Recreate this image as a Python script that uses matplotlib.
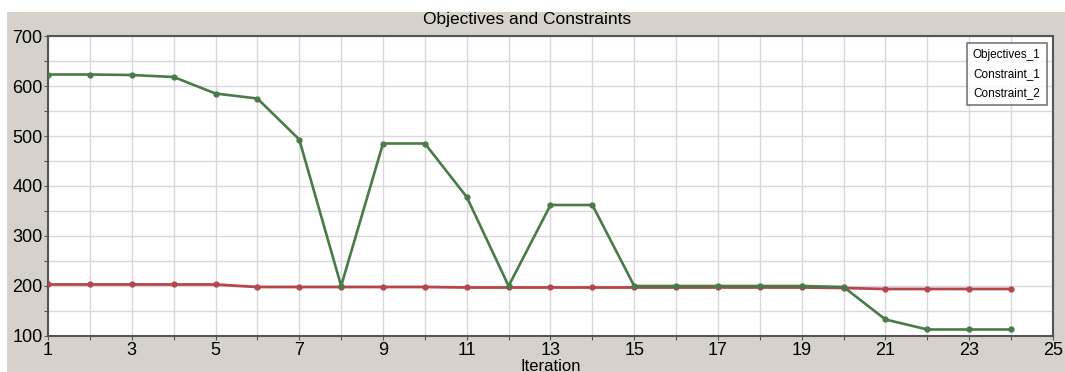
import matplotlib.pyplot as plt
from matplotlib.lines import Line2D

iterations = list(range(1, 25))
objectives_1 = [623, 623, 622, 618, 585, 575, 493, 200, 485, 485, 378, 200,
                362, 362, 200, 200, 200, 200, 200, 198, 133, 113, 113, 113]
constraint_1 = [203, 203, 203, 203, 203, 198, 198, 198, 198, 198, 197, 197,
                197, 197, 197, 197, 197, 197, 197, 196, 194, 194, 194, 194]
x_ticks = list(range(1, 26, 2))
y_ticks = list(range(100, 701, 100))

plt.rcParams["font.family"] = ["Liberation Sans", "DejaVu Sans"]

fig = plt.figure(figsize=(10.65, 3.72), dpi=100)
fig.patch.set_facecolor("white")
# grey panel behind the chart
fig.patches.append(plt.Rectangle((0.0066, 0), 1.0, 0.968, transform=fig.transFigure,
                                 facecolor="#d6d2cb", edgecolor="none", zorder=-10))

ax = fig.add_axes([0.0451, 0.0968, 0.9436, 0.8064])
ax.set_facecolor("white")

green = "#4a7a48"
red = "#b5474a"
ax.plot(iterations, constraint_1, color=red, lw=2.0, marker="o", ms=3.5, zorder=3)
ax.plot(iterations, objectives_1, color=green, lw=1.9, marker="o", ms=3.5, zorder=4)

ax.set_xlim(1, 25)
ax.set_ylim(100, 700)
ax.set_xticks(range(1, 26))
ax.set_xticklabels([str(t) if t in x_ticks else "" for t in range(1, 26)])
ax.set_yticks(range(100, 701, 50))
ax.set_yticklabels([str(t) if t in y_ticks else "" for t in range(100, 701, 50)])
ax.tick_params(axis="both", labelsize=13, length=3, color="#555555", pad=1)
ax.grid(True, color="#d8d8dc", lw=1.0)
ax.set_axisbelow(True)
for side in ["left", "bottom", "top", "right"]:
    ax.spines[side].set_color("#555555")
    ax.spines[side].set_linewidth(1.5)

ax.set_xlabel("Iteration", fontsize=12, labelpad=0)
fig.text(0.495, 0.947, "Objectives and Constraints", ha="center", va="center", fontsize=12.5)

handles = [Line2D([], [], color="none", label=n)
           for n in ["Objectives_1", "Constraint_1", "Constraint_2"]]
leg = ax.legend(handles=handles, loc="upper right", bbox_to_anchor=(0.9995, 0.995),
                handlelength=0, handletextpad=0, fontsize=8.5, frameon=True,
                fancybox=False, borderpad=0.5, labelspacing=0.6)
leg.get_frame().set_edgecolor("#555555")
leg.get_frame().set_linewidth(1.2)

fig.savefig("out.png", dpi=100)
